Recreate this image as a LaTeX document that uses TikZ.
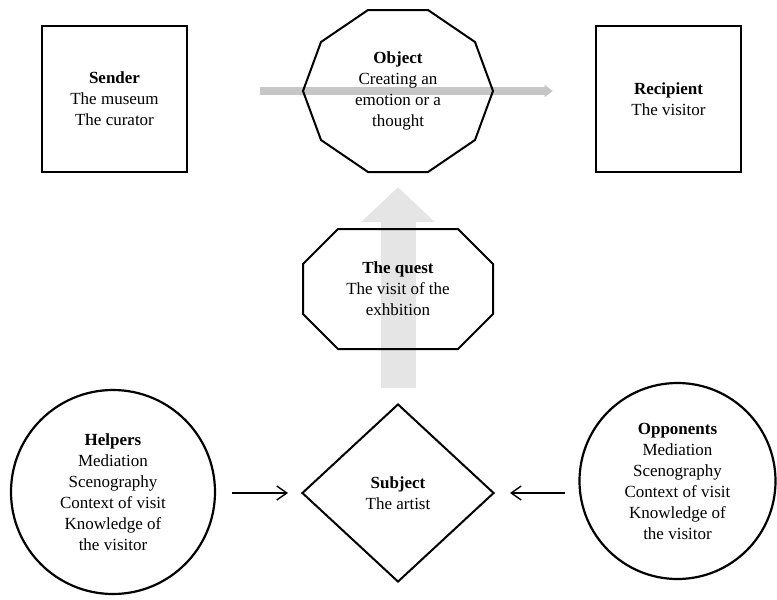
\documentclass[tikz,border=0pt]{standalone}
\usepackage{fontspec}
\setmainfont{Liberation Serif}
\usetikzlibrary{arrows.meta,shapes.geometric,backgrounds}

\begin{document}
\begin{tikzpicture}[x=1pt,y=-1pt,
		every node/.style={font=\fontsize{17}{21}\selectfont,align=center,inner sep=0pt},
		box/.style={draw,line width=2.6pt,minimum width=145pt,minimum height=146pt},
		outline/.style={line width=2pt},
		bigarrow/.style={gray!20,line width=35pt,-{Triangle[width=72pt,length=35pt]}},
		flowarrow/.style={gray!45,line width=8pt,-{Triangle[width=12pt,length=8pt]}},
		thinarrow/.style={line width=1.4pt,-{Straight Barb[length=10pt,width=14pt]}}]
				\useasboundingbox (0,0) rectangle (777,600);
				
				\node[box] (sender) at (114.5,99) {\textbf{Sender}\\The museum\\The curator};
				\node[box] (recipient) at (668.5,99) {\textbf{Recipient}\\The visitor};
				\node[minimum width=190pt,minimum height=162pt] (object) at (398,91)
					{\textbf{Object}\\Creating an\\emotion or a\\thought};
				\node[minimum width=191pt,minimum height=120pt] (quest) at (398,289)
					{\textbf{The quest}\\The visit of the\\exhbition};
				\node[diamond,draw,outline,minimum width=192pt,minimum height=178pt] (subject) at (398,493)
					{\textbf{Subject}\\The artist};
				\node[circle,draw,outline,line width=2.2pt,minimum size=204pt] (helpers) at (113,492)
					{\textbf{Helpers}\\Mediation\\Scenography\\Context of visit\\Knowledge of\\the visitor};
				\node[circle,draw,outline,line width=2.2pt,minimum size=196pt] (opponents) at (677.5,481)
					{\textbf{Opponents}\\Mediation\\Scenography\\Context of visit\\Knowledge of\\the visitor};
				
				% decagon and octagon round the texts
				\draw[outline,shift={(object.center)}] (-30,-81) -- (30,-81) -- (77,-49) -- (95,0) -- (77,49)
					-- (30,81) -- (-30,81) -- (-77,49) -- (-95,0) -- (-77,-49) -- cycle;
				\draw[outline,shift={(quest.center)}] (-60,-60) -- (60,-60) -- (95,-25) -- (95,25)
					-- (60,60) -- (-60,60) -- (-95,25) -- (-95,-25) -- cycle;
				
				\begin{scope}[on background layer]
					\draw[bigarrow,shorten <=15pt,shorten >=15pt] (subject.north) -- (object.south);
					\draw[flowarrow,shorten <=72pt,shorten >=42pt] (sender.east |- object.center) -- (recipient.west |- object.center);
				\end{scope}
				
				\draw[thinarrow,shorten <=16pt,shorten >=13pt] (subject.west -| helpers.east) -- (subject.west);
				\draw[thinarrow,shorten <=13pt,shorten >=15pt] (subject.east -| opponents.west) -- (subject.east);
	\end{tikzpicture}
\end{document}
